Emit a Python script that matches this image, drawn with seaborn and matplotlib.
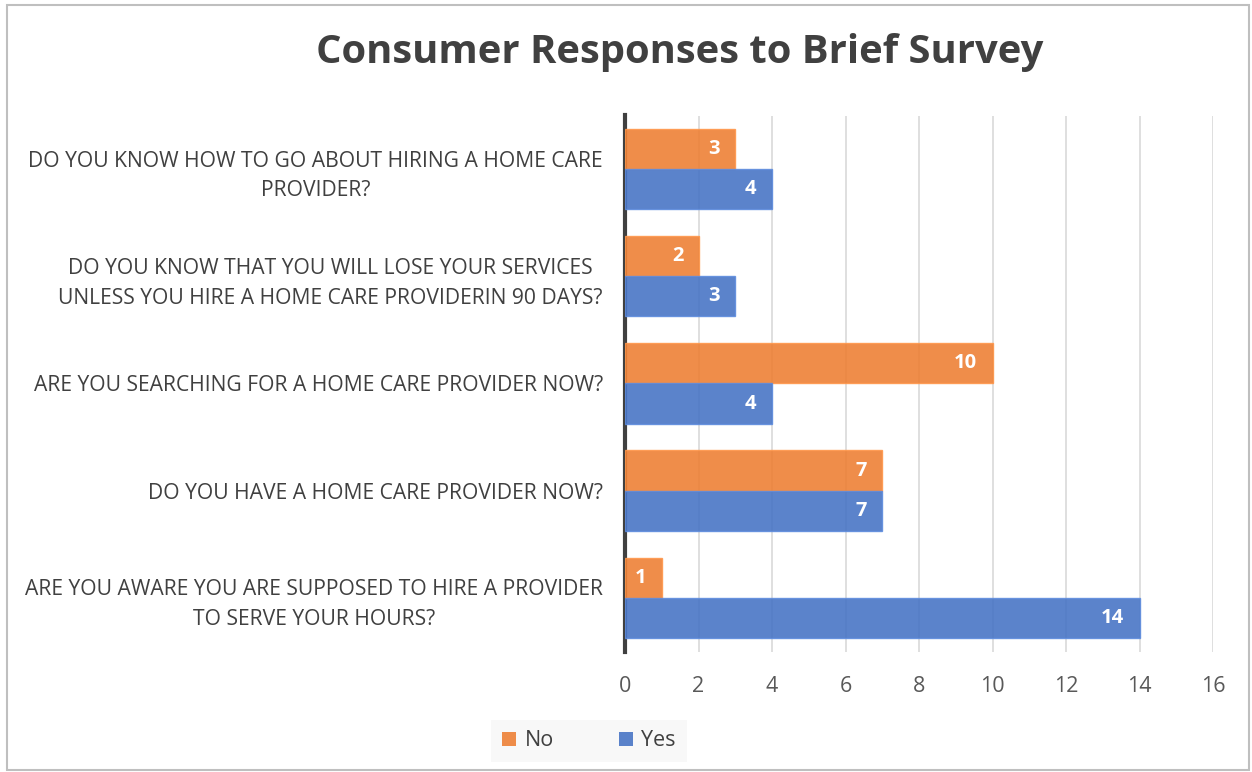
import matplotlib
matplotlib.use("Agg")
import matplotlib.pyplot as plt
import matplotlib.patches as mpatches
import seaborn as sns
import pandas as pd

questions = [
    "DO YOU KNOW HOW TO GO ABOUT HIRING A HOME CARE\nPROVIDER?",
    "DO YOU KNOW THAT YOU WILL LOSE YOUR SERVICES\nUNLESS YOU HIRE A HOME CARE PROVIDERIN 90 DAYS?",
    "ARE YOU SEARCHING FOR A HOME CARE PROVIDER NOW?",
    "DO YOU HAVE A HOME CARE PROVIDER NOW?",
    "ARE YOU AWARE YOU ARE SUPPOSED TO HIRE A PROVIDER\nTO SERVE YOUR HOURS?",
]
no_counts = [3, 2, 10, 7, 1]
yes_counts = [4, 3, 4, 7, 14]
answers = ["No", "Yes"]
x_ticks = [0, 2, 4, 6, 8, 10, 12, 14, 16]

df = pd.DataFrame({
    "question": questions * 2,
    "answer": ["No"] * len(questions) + ["Yes"] * len(questions),
    "count": no_counts + yes_counts,
})

sns.set_theme(style="white")
plt.rcParams["font.family"] = ["Open Sans", "DejaVu Sans"]

text_col = "#404040"
tick_col = "#595959"
palette = {"No": "#ED7D31", "Yes": "#4472C4"}

fig = plt.figure(figsize=(12.52, 7.72), dpi=100)
ax = fig.add_axes([625 / 1252, 120.5 / 772, 588 / 1252, 536 / 772])

sns.barplot(data=df, y="question", x="count", hue="answer", hue_order=answers,
            order=questions, orient="h", palette=palette, width=0.75, saturation=1,
            alpha=0.88, ax=ax, legend=False, zorder=3)

for bar in ax.patches:
    fc = bar.get_facecolor()
    bar.set_edgecolor((min(fc[0] + 0.1, 1), min(fc[1] + 0.1, 1), min(fc[2] + 0.1, 1), 0.9))
    bar.set_linewidth(1.0)

for cont in ax.containers:
    texts = ax.bar_label(cont, labels=[f"{int(v)}" for v in cont.datavalues],
                         padding=-11, color="white", fontsize=14.5, fontweight="bold")
    for t in texts:
        t.set_ha("right")

ax.set_xlim(0, 16)
ax.set_ylim(len(questions) - 0.5, -0.5)
ax.set_xticks(x_ticks)
ax.set_xticklabels([str(t) for t in x_ticks])
ax.xaxis.grid(True, color="#D9D9D9", linewidth=1.2, zorder=0)
ax.set_axisbelow(True)
ax.set_xlabel("")
ax.set_ylabel("")
for s in ["top", "right", "bottom"]:
    ax.spines[s].set_visible(False)
ax.spines["left"].set_color("#404040")
ax.spines["left"].set_linewidth(3)
ax.tick_params(axis="x", length=0, pad=18, labelsize=15.5, labelcolor=tick_col)
ax.tick_params(axis="y", length=0, pad=16, labelsize=15.2, labelcolor=text_col)
for lab in ax.get_yticklabels():
    lab.set_multialignment("center")
    lab.set_linespacing(1.55)

fig.text(0.543, 1 - 52 / 772, "Consumer Responses to Brief Survey", ha="center", va="center",
         fontsize=28.8, fontweight="bold", color=text_col)

handles = [mpatches.Patch(facecolor=palette[a], alpha=0.88, edgecolor="none", label=a)
           for a in answers]
leg = fig.legend(handles=handles, loc="center", bbox_to_anchor=(589 / 1252, 1 - 741 / 772),
                 ncol=2, frameon=True, fontsize=15.5, handlelength=0.65, handleheight=0.65,
                 columnspacing=3.0, handletextpad=0.4, borderpad=0.5, borderaxespad=0,
                 labelcolor=text_col)
leg.get_frame().set_facecolor("#F7F7F7")
leg.get_frame().set_edgecolor("none")
leg.get_frame().set_boxstyle("square", pad=0.0)

fig.patches.append(mpatches.Rectangle((7 / 1252, 0.002), 1242 / 1252, 1 - 4.5 / 772 - 0.002,
                                      transform=fig.transFigure, fill=False,
                                      edgecolor="#BFBFBF", linewidth=1.5))

fig.savefig("out.png", dpi=100)
